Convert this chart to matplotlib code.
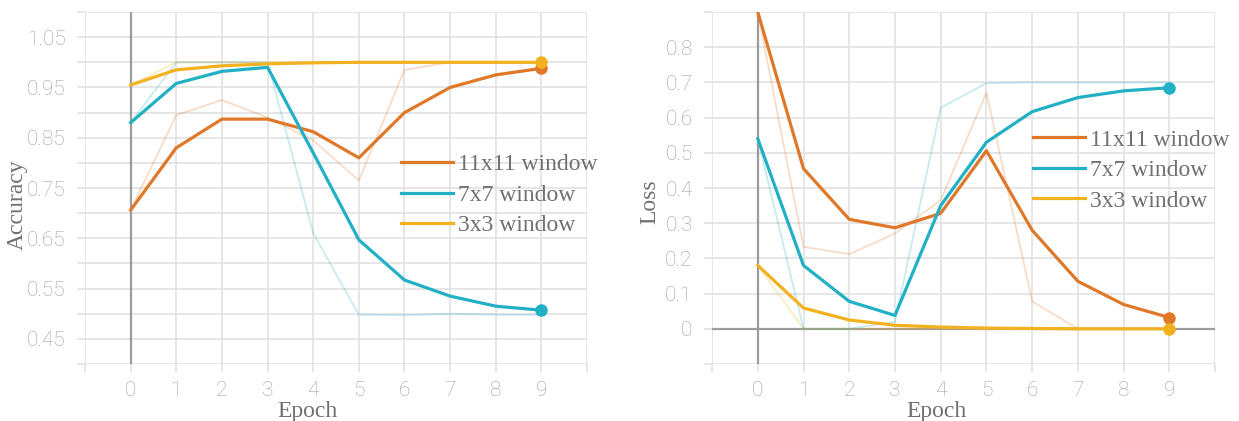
import matplotlib
matplotlib.use("Agg")
import matplotlib.pyplot as plt

# --- data ---
epochs = list(range(10))
series_names = ["11x11 window", "7x7 window", "3x3 window"]
colors = ["#e0782a", "#22b0c4", "#f2b11e"]

acc_11 = [0.706, 0.830, 0.887, 0.887, 0.862, 0.810, 0.900, 0.950, 0.975, 0.988]
acc_11_raw = [0.706, 0.895, 0.925, 0.890, 0.845, 0.765, 0.985, 1.000, 1.000, 1.000]
acc_7 = [0.880, 0.958, 0.982, 0.990, 0.820, 0.647, 0.567, 0.535, 0.515, 0.507]
acc_7_raw = [0.880, 1.000, 1.000, 1.000, 0.660, 0.498, 0.497, 0.500, 0.498, 0.498]
acc_3 = [0.955, 0.985, 0.993, 0.997, 0.999, 1.000, 1.000, 1.000, 1.000, 1.000]
acc_3_raw = [0.955, 1.000, 1.000, 1.000, 1.000, 1.000, 1.000, 1.000, 1.000, 1.000]

loss_11 = [0.900, 0.455, 0.311, 0.287, 0.328, 0.506, 0.280, 0.135, 0.069, 0.032]
loss_11_raw = [0.900, 0.233, 0.212, 0.271, 0.365, 0.671, 0.078, 0.000, 0.000, 0.000]
loss_7 = [0.540, 0.180, 0.078, 0.038, 0.350, 0.530, 0.617, 0.657, 0.676, 0.685]
loss_7_raw = [0.540, 0.000, 0.000, 0.020, 0.628, 0.698, 0.700, 0.700, 0.700, 0.700]
loss_3 = [0.180, 0.059, 0.025, 0.010, 0.005, 0.002, 0.001, 0.000, 0.000, 0.000]
loss_3_raw = [0.180, 0.000, 0.000, 0.000, 0.000, 0.000, 0.000, 0.000, 0.000, 0.000]

acc_ticks = [0.40 + 0.05 * i for i in range(15)]
acc_labels = ["0.45", "0.55", "0.65", "0.75", "0.85", "0.95", "1.05"]
loss_ticks = [-0.1 + 0.1 * i for i in range(11)]
loss_labels = ["0", "0.1", "0.2", "0.3", "0.4", "0.5", "0.6", "0.7", "0.8"]

GRID = "#e2e2e2"
ZERO = "#9c9c9c"
TICK_TXT = "#a0a0a0"
LABEL_TXT = "#707070"
SERIF = ["Liberation Serif", "DejaVu Serif"]


def style_axes(ax, yticks, ylabels_at, ylim):
    ax.set_xlim(-1, 10)
    ax.set_ylim(*ylim)
    ax.set_xticks(range(-1, 11))
    ax.set_xticklabels([str(e) if 0 <= e <= 9 else "" for e in range(-1, 11)])
    ax.set_yticks(yticks)
    ax.set_yticklabels([ylabels_at.get(round(t, 2), "") for t in yticks])
    ax.grid(True, color=GRID, lw=1.2, zorder=0)
    ax.set_axisbelow(True)
    for s in ax.spines.values():
        s.set_visible(False)
    ax.tick_params(length=6, color=GRID, width=1.2, labelcolor=TICK_TXT,
                   labelsize=15)
    ax.tick_params(axis="x", pad=6)
    ax.tick_params(axis="y", pad=8)
    for lab in ax.get_xticklabels() + ax.get_yticklabels():
        lab.set_family("Roboto")
        lab.set_fontweight("light")
    ax.axvline(0, color=ZERO, lw=1.6, zorder=1)


def draw(ax, smooth, raw):
    for s, r, c, name in zip(smooth, raw, colors, series_names):
        ax.plot(epochs, r, color=c, lw=1.3, alpha=0.25, zorder=2)
        ax.plot(epochs, s, color=c, lw=2.3, zorder=3, label=name)
    for s, c in zip(smooth, colors):
        ax.plot(epochs[-1], s[-1], "o", color=c, ms=8, zorder=4)


fig = plt.figure(figsize=(12.39, 4.21), dpi=100)
ax1 = fig.add_axes([0.0686, 0.1354, 0.4052, 0.836])
ax2 = fig.add_axes([0.5747, 0.1354, 0.406, 0.836])

# accuracy
style_axes(ax1, acc_ticks,
           {round(float(l), 2): l for l in acc_labels}, (0.40, 1.10))
draw(ax1, [acc_11, acc_7, acc_3], [acc_11_raw, acc_7_raw, acc_3_raw])
ax1.set_ylabel("Accuracy", family=SERIF, fontsize=17, color=LABEL_TXT)
ax1.set_xlabel("Epoch", family=SERIF, fontsize=17, color=LABEL_TXT)

# loss
style_axes(ax2, loss_ticks,
           {round(float(l), 2): l for l in loss_labels}, (-0.1, 0.9))
ax2.axhline(0, color=ZERO, lw=1.6, zorder=1)
draw(ax2, [loss_11, loss_7, loss_3], [loss_11_raw, loss_7_raw, loss_3_raw])
ax2.set_ylabel("Loss", family=SERIF, fontsize=17, color=LABEL_TXT)
ax2.set_xlabel("Epoch", family=SERIF, fontsize=17, color=LABEL_TXT)

for ax, lx, ly, ylx in [(ax1, 0.444, 0.452, -0.135), (ax2, 0.447, 0.46, -0.123)]:
    ax.xaxis.set_label_coords(lx, -0.105)
    ax.xaxis.label.set_va("top")
    ax.yaxis.set_label_coords(ylx, ly)
    ax.yaxis.label.set_va("center")

leg_kw = dict(loc="center left", frameon=False, borderpad=0, borderaxespad=0,
              handlelength=2.2, handletextpad=0.2, labelspacing=0.38,
              prop={"family": SERIF, "size": 17}, labelcolor=LABEL_TXT)
ax1.legend(bbox_to_anchor=(0.63, 0.48), **leg_kw)
ax2.legend(bbox_to_anchor=(0.638, 0.55), **leg_kw)

fig.savefig("out.png", dpi=100)
